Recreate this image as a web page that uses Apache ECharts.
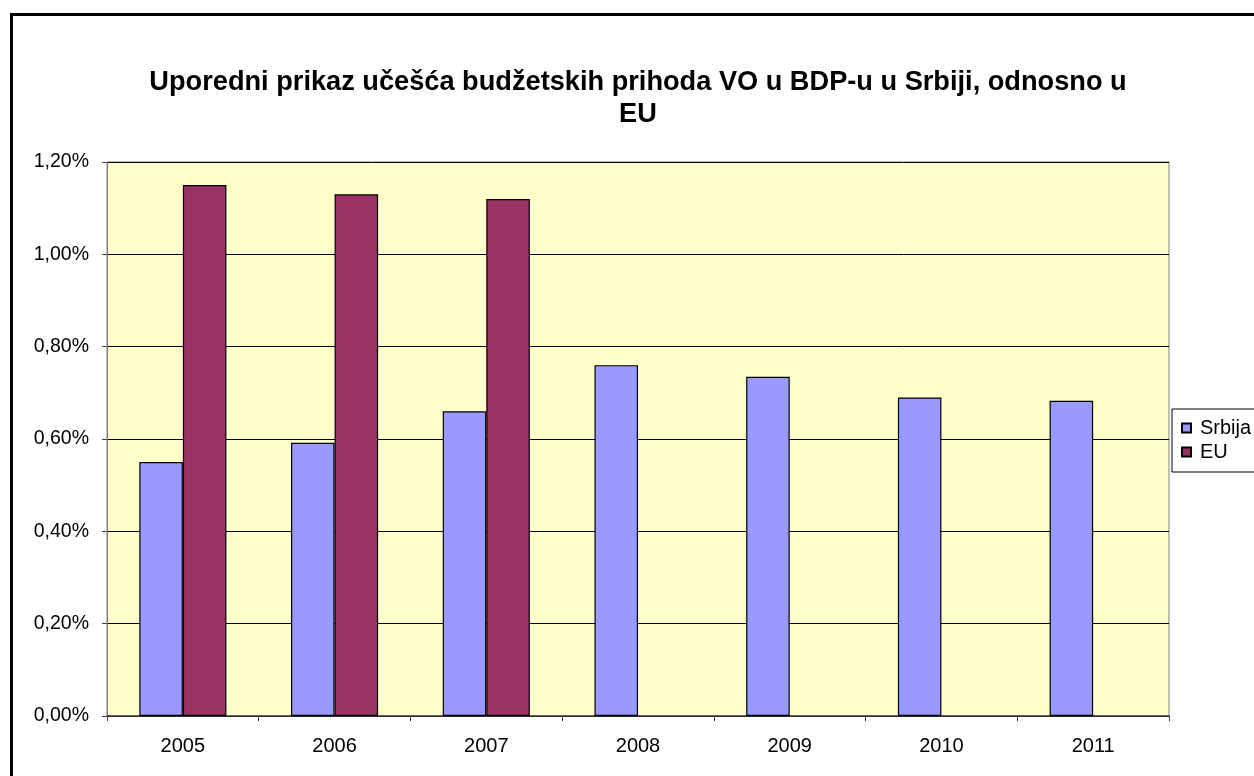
<!DOCTYPE html>
<html>
<head>
    <title>ECharts</title>
    <meta charset="utf-8">
    <style>
        html, body { margin: 0; padding: 0; background: #fff; }
        #main { width: 1254px; height: 776px; }
    </style>
</head>
<body>
    <div id="main"></div>
    <script type="text/javascript" src="https://cdn.jsdelivr.net/npm/echarts@6/dist/echarts.min.js"></script>
    <script type="text/javascript">
    // podaci (u %)
    var godine = ['2005', '2006', '2007', '2008', '2009', '2010', '2011'];
    var srbija = [0.55, 0.592, 0.66, 0.76, 0.735, 0.69, 0.683];
    var eu = [1.15, 1.13, 1.12, null, null, null, null];
    var naslov = 'Uporedni prikaz učešća budžetskih prihoda VO u BDP-u u Srbiji, odnosno u\nEU';

    var myChart = echarts.init(document.getElementById('main'));
    var font = 'Liberation Sans, Arial, sans-serif';

    var option = {
        animation: false,
        textStyle: { fontFamily: font },
        title: {
            text: naslov,
            left: 633,
            top: 62,
            textAlign: 'center',
            textStyle: {
                fontFamily: font,
                fontSize: 27.2,
                fontWeight: 'bold',
                color: '#000',
                lineHeight: 32
            }
        },
        // okvir oko cijelog grafikona
        graphic: [{
            type: 'rect',
            shape: { x: 11.5, y: 14.5, width: 1400, height: 900 },
            style: { fill: 'none', stroke: '#000', lineWidth: 3 },
            silent: true
        }],
        legend: {
            orient: 'vertical',
            left: 1172,
            top: 409,
            padding: [8, 20, 9, 9],
            itemGap: 2,
            itemWidth: 9,
            itemHeight: 9,
            icon: 'rect',
            backgroundColor: '#fff',
            borderColor: '#000',
            borderWidth: 1,
            textStyle: { fontFamily: font, fontSize: 20, color: '#000', lineHeight: 22, padding: [0, 0, 0, 4] },
            data: ['Srbija', 'EU']
        },
        grid: {
            left: 107,
            right: 85,
            top: 162,
            bottom: 60,
            show: true,
            backgroundColor: '#FFFFCC',
            borderColor: '#808080',
            borderWidth: 1
        },
        xAxis: {
            type: 'category',
            data: godine,
            axisLine: { lineStyle: { color: '#404040', width: 1.5 } },
            axisTick: { show: true, length: 5, lineStyle: { color: '#404040' } },
            axisLabel: { color: '#000', fontSize: 20, margin: 20, fontFamily: font }
        },
        yAxis: {
            type: 'value',
            min: 0,
            max: 1.2,
            interval: 0.2,
            axisLine: { show: true, lineStyle: { color: '#808080' } },
            axisTick: { show: true, length: 5, lineStyle: { color: '#404040' } },
            axisLabel: {
                color: '#000',
                fontSize: 19.5,
                margin: 18,
                fontFamily: font,
                formatter: function (v) { return v.toFixed(2).replace('.', ',') + '%'; }
            },
            splitLine: { lineStyle: { color: '#000', width: 1 } }
        },
        series: [
            {
                name: 'Srbija',
                type: 'bar',
                data: srbija,
                barGap: '0%',
                barCategoryGap: '42.6%',
                itemStyle: { color: '#9999FF', borderColor: '#000', borderWidth: 1.2 },
                emphasis: { disabled: true }
            },
            {
                name: 'EU',
                type: 'bar',
                data: eu,
                barGap: '0%',
                barCategoryGap: '42.6%',
                itemStyle: { color: '#993366', borderColor: '#000', borderWidth: 1.2 },
                emphasis: { disabled: true }
            }
        ]
    };

    myChart.setOption(option);
    </script>
</body>
</html>
